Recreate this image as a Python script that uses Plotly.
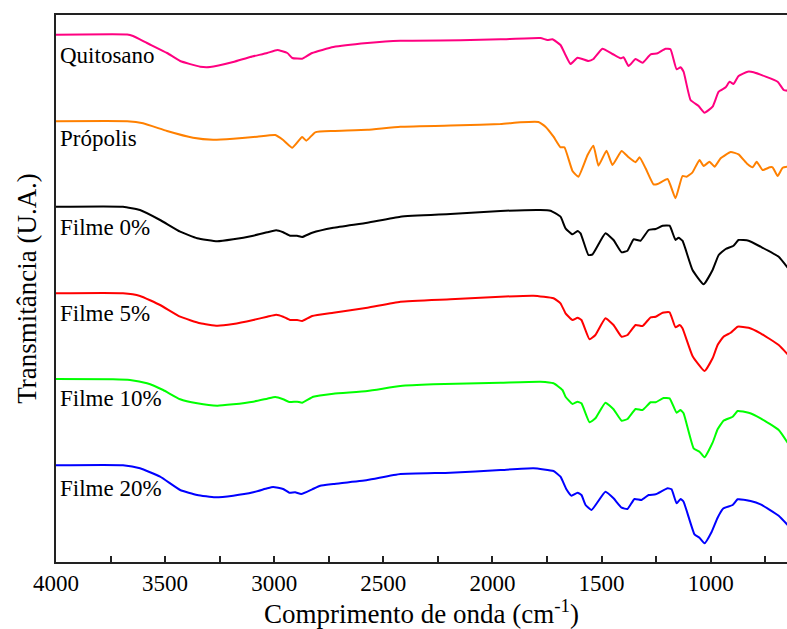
import plotly.graph_objects as go

# Wavenumbers (cm-1) and transmittance (arbitrary units, stacked) per sample
quit_wn = [4000, 3674, 3647, 3583, 3491, 3431, 3339, 3294, 3188, 3110, 3032, 2986, 2940, 2917, 2872, 2858, 2826, 2729, 2573, 2422, 2147, 1963, 1780, 1748, 1725, 1688, 1665, 1642, 1610, 1560, 1537, 1496, 1450, 1413, 1399, 1376, 1344, 1312, 1275, 1243, 1207, 1184, 1156, 1138, 1124, 1092, 1055, 1028, 991, 963, 931, 913, 895, 872, 830, 803, 693, 665, 647]
quit_t = [527.3, 527.5, 526, 519, 509, 501, 495.3, 495, 500, 505, 509, 512, 509, 504, 503.3, 505, 509, 515, 519, 521.3, 521.7, 522.7, 524, 522, 522.7, 517, 507, 498, 504.3, 501, 503, 513.3, 508, 503.7, 504.7, 496, 503, 499.3, 507.7, 508.7, 513.3, 512.7, 492.7, 494.7, 490.3, 462, 456, 449.3, 455.3, 470.3, 474.7, 480.3, 478, 486, 490.3, 489.7, 480.3, 472, 471.3]

prop_wn = [4000, 3674, 3601, 3491, 3372, 3280, 3188, 3078, 2995, 2959, 2917, 2872, 2853, 2812, 2729, 2573, 2422, 2147, 1963, 1872, 1789, 1757, 1720, 1688, 1670, 1633, 1606, 1564, 1537, 1514, 1477, 1450, 1408, 1376, 1344, 1326, 1298, 1262, 1243, 1197, 1161, 1129, 1110, 1083, 1051, 1032, 1005, 982, 954, 908, 872, 830, 807, 789, 762, 729, 716, 693, 670, 647]
prop_t = [440.7, 440.7, 438.7, 431, 424.3, 422.3, 423.3, 425.3, 427, 422, 414.3, 425, 421.3, 429.7, 431, 432.3, 435.3, 436.7, 438, 439.7, 440, 435.3, 425.3, 414.7, 414.7, 391, 385.3, 407, 416.3, 396.3, 411.3, 397, 411, 404.7, 399.7, 404.7, 393.7, 377.7, 378, 383, 363.7, 386, 385.3, 389.7, 402, 396, 400.3, 395.3, 403.7, 410, 407.7, 397.7, 394.7, 400.3, 392, 394.7, 394.7, 386, 394.3, 395.3]

f0_wn = [4000, 3693, 3615, 3523, 3431, 3353, 3261, 3188, 3096, 3032, 2991, 2959, 2927, 2895, 2872, 2826, 2729, 2573, 2422, 2193, 1963, 1780, 1734, 1688, 1665, 1633, 1610, 1596, 1560, 1541, 1482, 1445, 1408, 1381, 1353, 1321, 1284, 1252, 1220, 1188, 1161, 1147, 1129, 1083, 1032, 991, 963, 931, 895, 872, 826, 771, 688, 647]
f0_t = [355.3, 355.3, 352, 342, 330.3, 323.7, 320.7, 322.7, 326.3, 329.7, 331.7, 329.7, 326.3, 326.3, 325, 329.3, 334.3, 339.3, 345.3, 348, 351, 352, 351.3, 345.3, 333.7, 327.7, 331, 328.7, 307, 307.7, 328.7, 322, 309.7, 311.3, 322.7, 321.3, 332, 333, 336.3, 336.3, 322, 324.3, 321.3, 292, 277.7, 292, 307, 313, 316.3, 322, 321.3, 315.3, 305.3, 294.3]

f5_wn = [4000, 3693, 3615, 3523, 3431, 3339, 3261, 3188, 3096, 3032, 2991, 2959, 2927, 2895, 2872, 2826, 2729, 2573, 2422, 2193, 1963, 1812, 1720, 1688, 1665, 1633, 1610, 1592, 1555, 1528, 1482, 1445, 1408, 1381, 1344, 1312, 1275, 1252, 1220, 1188, 1161, 1142, 1129, 1083, 1028, 991, 968, 941, 908, 876, 826, 771, 688, 647]
f5_t = [268.7, 268.7, 266, 257, 245.3, 238.7, 236.3, 238, 242, 245.3, 247.3, 245.3, 242, 242, 241, 246, 249.3, 254.3, 260.3, 262.7, 265.3, 266.3, 263.7, 258.7, 248.7, 242, 244.3, 242, 222.7, 227, 243.7, 237, 225.3, 227, 237, 236, 244.7, 245.3, 249.3, 249.7, 234.7, 237, 233.7, 206, 191, 203.7, 217, 225.3, 229.3, 235.3, 234.3, 228.7, 217, 207.7]

f10_wn = [4000, 3739, 3661, 3583, 3509, 3431, 3353, 3261, 3188, 3096, 3032, 2995, 2959, 2931, 2895, 2872, 2821, 2729, 2573, 2422, 2271, 1963, 1780, 1720, 1679, 1665, 1633, 1610, 1592, 1555, 1528, 1482, 1445, 1408, 1381, 1344, 1312, 1275, 1252, 1216, 1188, 1156, 1138, 1124, 1078, 1051, 1028, 991, 968, 941, 899, 876, 826, 771, 688, 647]
f10_t = [183, 182.7, 182, 178.7, 172, 162.7, 158.7, 156.3, 157.7, 160.3, 163.3, 165, 162.7, 160, 160.3, 159.3, 165.3, 168.3, 171, 176, 177.7, 179.3, 180.3, 178.7, 172, 165.3, 158, 160.3, 158.7, 139.7, 143.7, 159.3, 152.7, 141.3, 143, 153, 152, 159.7, 159.7, 164, 163.7, 149.3, 152, 148.7, 113.7, 110.3, 104.7, 119.3, 132.7, 141.3, 145.3, 151, 149.3, 143.7, 132, 119.3]

f20_wn = [4000, 3693, 3615, 3523, 3431, 3353, 3271, 3188, 3096, 3032, 3005, 2959, 2931, 2904, 2876, 2826, 2789, 2729, 2573, 2422, 2193, 1963, 1812, 1720, 1688, 1661, 1638, 1610, 1592, 1573, 1546, 1482, 1445, 1408, 1381, 1349, 1317, 1284, 1252, 1197, 1179, 1156, 1138, 1124, 1074, 1051, 1028, 995, 968, 941, 899, 876, 817, 771, 688, 647]
f20_t = [96.7, 96.7, 93.7, 85.3, 72, 67, 64.7, 66.3, 69.7, 73.7, 75, 73, 69.3, 69.7, 68, 72.7, 76.3, 78, 82, 88, 89.3, 92, 93.7, 91, 85.3, 72.7, 66.3, 69.3, 67, 57, 52, 70.3, 63.7, 54.3, 53, 63, 62, 67, 67.7, 73.7, 72.7, 58.7, 63, 60.3, 27.7, 24.3, 18.7, 30.3, 44.3, 53.7, 57, 62.7, 61, 57.7, 46.3, 37]

names = ["Quitosano", "Própolis", "Filme 0%", "Filme 5%", "Filme 10%", "Filme 20%"]
colors = ["#FF0080", "#FF8000", "#000000", "#FF0000", "#00FF00", "#0000FF"]
series = [(quit_wn, quit_t), (prop_wn, prop_t), (f0_wn, f0_t), (f5_wn, f5_t), (f10_wn, f10_t), (f20_wn, f20_t)]
label_y = [507, 424, 335, 248.5, 163.5, 73.5]

SERIF = "Liberation Serif"

fig = go.Figure()
for (wn, t), name, col in zip(series, names, colors):
    fig.add_trace(go.Scatter(x=wn, y=t, mode="lines", name=name,
                             line=dict(color=col, width=2, shape="spline", smoothing=0.4),
                             showlegend=False))

for name, yv in zip(names, label_y):
    fig.add_annotation(x=0.003, xref="paper", y=yv, yref="y", text=name,
                       showarrow=False, xanchor="left", yanchor="middle",
                       font=dict(family=SERIF, size=23, color="#000000"))

fig.update_layout(
    width=787, height=629,
    margin=dict(l=56, r=0, t=15, b=67),
    paper_bgcolor="white", plot_bgcolor="white",
    font=dict(family=SERIF, color="#000000"),
)
fig.update_xaxes(
    range=[4000, 650], autorange=False,
    showline=True, linecolor="#222222", linewidth=1.5, mirror=True,
    showgrid=False, zeroline=False,
    ticks="inside", ticklen=6, tickwidth=1.5, tickcolor="#222222",
    dtick=500, tick0=0,
    minor=dict(ticks="inside", ticklen=6, tickwidth=1.5, tickcolor="#222222", dtick=250),
    tickfont=dict(family=SERIF, size=23, color="#000000"),
    title=dict(text="Comprimento de onda (cm<sup>-1</sup>)", font=dict(family=SERIF, size=27, color="#000000"), standoff=8),
)
fig.update_yaxes(
    range=[0, 547], autorange=False,
    showline=True, linecolor="#222222", linewidth=1.5, mirror=False,
    showgrid=False, zeroline=False, showticklabels=False, ticks="",
    title=dict(text="Transmitância (U.A.)", font=dict(family=SERIF, size=27, color="#000000"), standoff=10),
)

fig.write_html("out.html")
